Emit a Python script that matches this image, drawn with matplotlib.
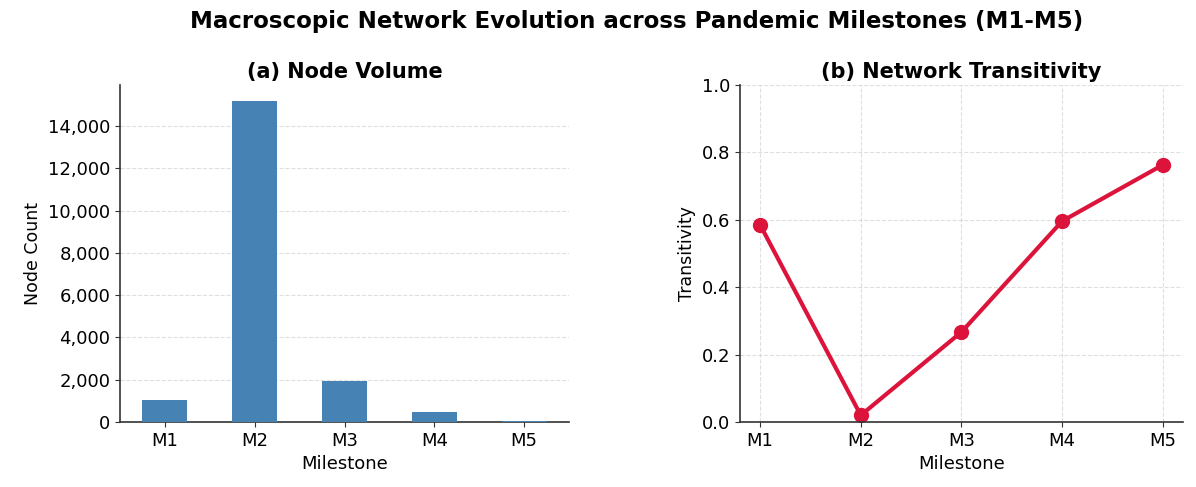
import numpy as np
import matplotlib
matplotlib.use('Agg')
import matplotlib.pyplot as plt
from matplotlib.ticker import FuncFormatter

plt.rcParams['font.family'] = ['DejaVu Sans']

milestones = ['M1', 'M2', 'M3', 'M4', 'M5']
node_counts = [1040, 15180, 1940, 470, 30]
transitivity = [0.585, 0.020, 0.267, 0.596, 0.763]

BAR_COLOR = 'steelblue'
LINE_COLOR = 'crimson'

fig = plt.figure(figsize=(11.96, 4.87), dpi=100)
ax1 = fig.add_axes([0.1003, 0.1335, 0.3755, 0.692])
ax2 = fig.add_axes([0.6187, 0.1335, 0.3704, 0.692])

fig.suptitle('Macroscopic Network Evolution across Pandemic Milestones (M1-M5)',
             fontsize=16.5, fontweight='bold', x=0.532, y=0.98)

# (a) node volume
x = np.arange(len(milestones))
ax1.bar(x, node_counts, width=0.5, color=BAR_COLOR, zorder=3)
ax1.set_xlim(-0.5, len(milestones) - 0.5)
ax1.set_xticks(x)
ax1.set_xticklabels(milestones)
ax1.yaxis.set_major_formatter(FuncFormatter(lambda v, p: f'{int(v):,}'))
ax1.set_title('(a) Node Volume', fontsize=15, fontweight='bold', pad=5)
ax1.set_xlabel('Milestone', fontsize=13)
ax1.set_ylabel('Node Count', fontsize=12.5)
ax1.grid(axis='y', linestyle='--', alpha=0.4, zorder=0)

# (b) transitivity
ax2.plot(x, transitivity, color=LINE_COLOR, marker='o', markersize=10, linewidth=3)
ax2.set_ylim(0, 1.0)
ax2.set_xticks(x)
ax2.set_xticklabels(milestones)
ax2.set_title('(b) Network Transitivity', fontsize=15, fontweight='bold', pad=5)
ax2.set_xlabel('Milestone', fontsize=13)
ax2.set_ylabel('Transitivity', fontsize=12.5)
ax2.grid(True, linestyle='--', alpha=0.4)

for ax in (ax1, ax2):
    ax.spines['top'].set_visible(False)
    ax.spines['right'].set_visible(False)
    for s in ('left', 'bottom'):
        ax.spines[s].set_color('#333333')
        ax.spines[s].set_linewidth(1.2)
    ax.tick_params(labelsize=13, colors='#333333', labelcolor='black')

fig.savefig('out.png', dpi=100)
